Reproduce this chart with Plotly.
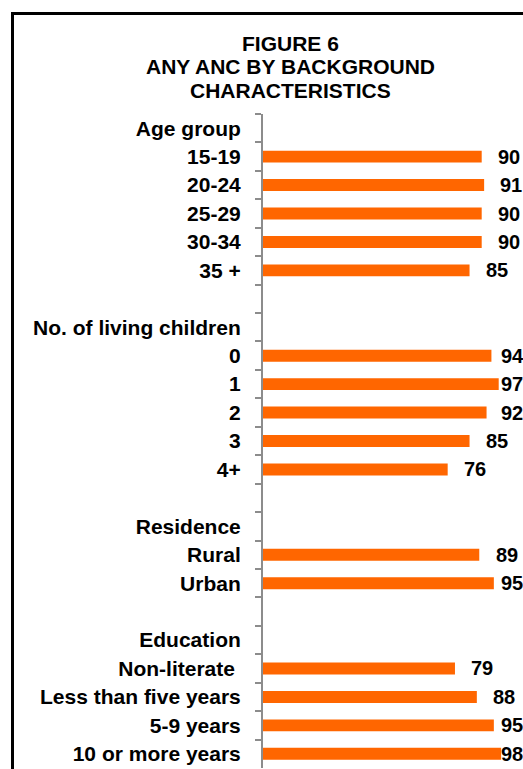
import plotly.graph_objects as go

categories = [
    "Age group", "15-19", "20-24", "25-29", "30-34", "35 +", " ",
    "No. of living children", "0", "1", "2", "3", "4+", "  ",
    "Residence", "Rural", "Urban", "   ",
    "Education", "Non-literate\u00a0", "Less than five years", "5-9 years", "10 or more years",
]
values = [
    None, 90, 91, 90, 90, 85, None,
    None, 94, 97, 92, 85, 76, None,
    None, 89, 95, None,
    None, 79, 88, 95, 98,
]
value_labels = [
    "", "90", "91", "90", "90", "85", "",
    "", "94", "97", "92", "85", "76", "",
    "", "89", "95", "",
    "", "79", "88", "95", "98",
]
title_lines = ["FIGURE 6", "ANY ANC BY BACKGROUND", "CHARACTERISTICS"]

W, H = 523, 769
L, R, T, B = 263, 17, 114, 1
pw, ph = W - L - R, H - T - B
FONT = "Liberation Sans, Arial, sans-serif"

def px_x(p):
    return (p - L) / pw

def px_y(p):
    return (H - B - p) / ph

fig = go.Figure()
fig.add_trace(go.Bar(
    x=values, y=categories, orientation="h",
    marker=dict(color="#FF6600", line=dict(width=0)),
    hoverinfo="skip",
))

annotations = []
for i, (v, t) in enumerate(zip(values, value_labels)):
    if v is None:
        continue
    annotations.append(dict(
        x=min(v + 5.9, 97.0), y=i, xref="x", yref="y", text=t,
        showarrow=False, xanchor="left", yanchor="middle",
        font=dict(family=FONT, size=20, color="black", weight="bold"),
    ))

for i, line in enumerate(title_lines):
    annotations.append(dict(
        x=px_x(290), y=px_y(44 + 23 * i), xref="paper", yref="paper", text=line,
        showarrow=False, xanchor="center", yanchor="middle",
        font=dict(family=FONT, size=21, color="black", weight="bold"),
    ))

fig.update_layout(
    width=W, height=H,
    margin=dict(l=L, r=R, t=T, b=B, pad=0),
    paper_bgcolor="white", plot_bgcolor="white",
    showlegend=False,
    bargap=0.58,
    annotations=annotations,
    shapes=[dict(
        type="rect", xref="paper", yref="paper",
        x0=px_x(12.5), x1=px_x(560), y0=px_y(13.5), y1=px_y(800),
        line=dict(color="black", width=3), fillcolor="rgba(0,0,0,0)", layer="above",
    )],
    xaxis=dict(range=[0, 100], visible=False, showgrid=False, zeroline=False, fixedrange=True),
    yaxis=dict(
        type="category", autorange="reversed",
        showline=True, linecolor="#8c8c8c", linewidth=2,
        ticks="outside", tickson="boundaries", ticklen=6, tickwidth=2, tickcolor="#8c8c8c",
        showgrid=False, zeroline=False,
        tickfont=dict(family=FONT, size=21, color="black", weight="bold"),
        ticklabelstandoff=16,
    ),
)

fig.write_html(
    "out.html",
    config={"displayModeBar": False},
    post_script="document.body.style.margin='0';document.body.style.overflow='hidden';",
)
